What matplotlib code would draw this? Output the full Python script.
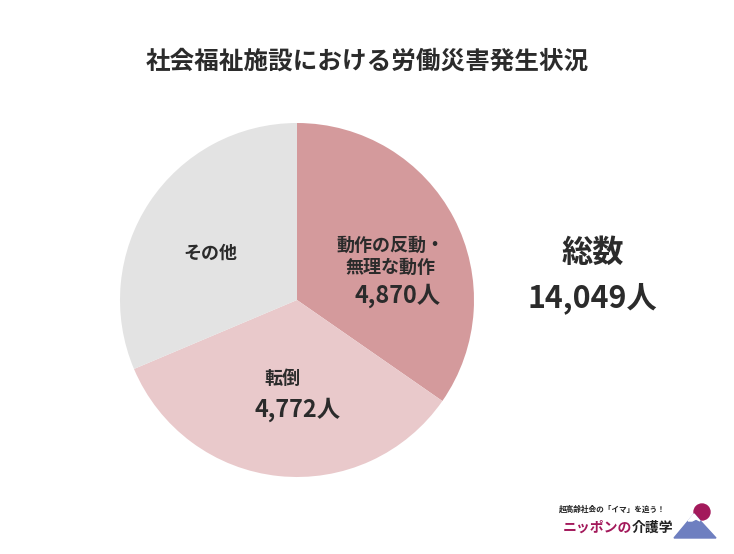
import matplotlib
matplotlib.use("Agg")
import matplotlib.pyplot as plt
from matplotlib.patches import Circle, Polygon

plt.rcParams['font.family'] = ['Noto Sans CJK JP', 'DejaVu Sans']

title = "社会福祉施設における労働災害発生状況"
categories = ["動作の反動・\n無理な動作", "転倒", "その他"]
values = [4870, 4772, 4407]
value_labels = ["4,870人", "4,772人", ""]
total_label = "14,049人"
colors = ["#d49a9c", "#e9c9cb", "#e3e3e3"]

W, H = 734, 554
fig = plt.figure(figsize=(W / 100, H / 100), dpi=100)
fig.patch.set_facecolor("white")

cx, cy, r = 297, 300, 177
ax = fig.add_axes([(cx - r) / W, (H - cy - r) / H, 2 * r / W, 2 * r / H])
ax.pie(values, colors=colors, startangle=90, counterclock=False, radius=1,
       wedgeprops=dict(linewidth=0))
ax.set_xlim(-1, 1)
ax.set_ylim(-1, 1)
ax.set_aspect("equal")
ax.axis("off")

txt = "#2b2b2b"
def ftext(x, y, s, size, **kw):
    fig.text(x / W, 1 - y / H, s, fontsize=size, ha="center", va="center",
             color=kw.pop("color", txt), fontweight=kw.pop("fontweight", "bold"), **kw)

ftext(367, 62, title, 17.7)
ftext(391, 256, categories[0], 13, linespacing=1.2)
ftext(398, 296, value_labels[0], 16.8)
ftext(210, 253, categories[2], 13)
ftext(282, 378, categories[1], 13)
ftext(298, 410, value_labels[1], 16.8)
ftext(593, 253, "総数", 22.5)
ftext(592, 298, total_label, 21.8)

# logo
ftext(612, 509, "超高齢社会の「イマ」を追う！", 5.5, color="#222222")
fig.text(563 / W, 1 - 528 / H, "ニッポンの", fontsize=10, ha="left", va="center",
         color="#a3195b", fontweight="bold")
fig.text(632 / W, 1 - 528 / H, "介護学", fontsize=10, ha="left", va="center",
         color="#222222", fontweight="bold")
lax = fig.add_axes([672 / W, 1 - 540 / H, 50 / W, 40 / H])
lax.set_xlim(0, 50)
lax.set_ylim(0, 40)
lax.axis("off")
lax.add_patch(Circle((30, 28), 8, color="#a3195b"))
lax.add_patch(Polygon([[2, 2], [22, 26], [44, 2]], closed=True, color="#6e7fc0"))
lax.add_patch(Polygon([[16, 19], [22, 26], [28, 19], [24, 21], [20, 19]], closed=True, color="white"))

fig.savefig("out.png", dpi=100, facecolor="white")
